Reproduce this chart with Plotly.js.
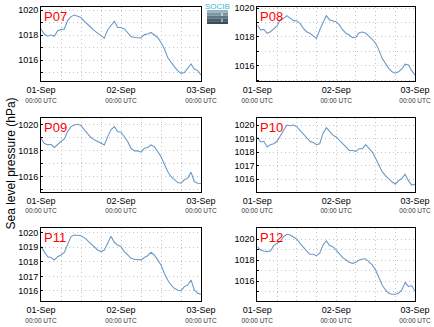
<!DOCTYPE html>
<html>
<head>
<meta charset="utf-8">
<script src="https://cdn.plot.ly/plotly-3.0.1.min.js"></script>
<style>html,body{margin:0;padding:0;background:#fff}#chart{width:434px;height:327px}</style>
</head>
<body>
<div id="chart"></div>
<script>
// Hours since 01-Sep 00:00 UTC
const hours = [0,1,2,3,4,5,6,7,8,9,10,11,12,13,14,15,16,17,18,19,20,21,22,23,24,25,26,27,28,29,30,31,32,33,34,35,36,37,38,39,40,41,42,43,44,45,46,47,48];

const stations = ['P07','P08','P09','P10','P11','P12'];

const p07 = [1018.48,1018.08,1017.90,1018.00,1017.90,1018.35,1018.43,1018.48,1019.15,1019.47,1019.60,1019.50,1019.40,1019.10,1018.88,1018.60,1018.35,1018.13,1017.95,1017.75,1018.40,1018.75,1019.10,1018.60,1018.60,1018.48,1018.20,1017.87,1017.80,1017.80,1017.76,1018.03,1018.08,1018.20,1018.00,1017.80,1017.40,1016.90,1016.20,1015.80,1015.47,1015.15,1014.93,1015.00,1015.33,1015.68,1015.28,1015.15,1014.80];
const p08 = [1018.84,1018.49,1018.53,1018.26,1018.37,1018.60,1018.77,1019.19,1019.30,1019.49,1019.30,1019.14,1019.12,1018.95,1018.60,1018.37,1018.26,1018.10,1017.90,1018.49,1019.00,1019.50,1019.19,1019.14,1019.07,1018.84,1018.49,1018.26,1018.14,1017.95,1017.98,1018.30,1018.35,1018.26,1018.07,1017.84,1017.56,1017.10,1016.51,1016.12,1015.81,1015.58,1015.47,1015.58,1015.77,1016.10,1016.05,1015.65,1015.35];
const p09 = [1018.97,1018.59,1018.46,1018.51,1018.26,1018.51,1018.72,1018.92,1019.49,1019.87,1020.00,1020.05,1019.95,1019.62,1019.28,1019.03,1018.85,1018.72,1018.59,1018.46,1019.10,1019.62,1019.87,1019.49,1019.44,1019.10,1018.72,1018.20,1018.00,1018.00,1017.90,1018.20,1018.26,1018.46,1018.33,1017.95,1017.56,1016.97,1016.41,1016.03,1015.77,1015.56,1015.51,1015.77,1015.90,1016.36,1015.64,1015.51,1015.49];
const p10 = [1019.12,1018.75,1018.80,1018.38,1018.55,1018.62,1018.80,1019.20,1019.62,1020.00,1019.95,1020.00,1019.88,1019.62,1019.38,1019.05,1018.80,1018.70,1018.55,1018.62,1019.38,1019.80,1019.50,1019.25,1019.12,1018.88,1018.62,1018.38,1018.12,1018.12,1018.05,1018.25,1018.25,1018.55,1018.25,1018.00,1017.55,1017.00,1016.55,1016.25,1016.00,1015.80,1015.62,1015.88,1016.05,1016.35,1015.88,1015.55,1015.62];
const p11 = [1019.04,1018.70,1018.35,1018.29,1018.13,1018.35,1018.47,1018.65,1019.15,1019.73,1019.84,1019.84,1019.79,1019.66,1019.43,1019.20,1018.97,1018.81,1018.70,1018.81,1019.27,1019.75,1019.34,1019.15,1019.04,1018.70,1018.47,1018.24,1018.17,1018.13,1018.13,1018.29,1018.42,1018.65,1018.47,1018.13,1017.78,1017.21,1016.75,1016.41,1016.18,1016.07,1016.00,1016.30,1016.41,1016.75,1016.07,1015.84,1015.77];
const p12 = [1019.30,1018.98,1018.89,1018.83,1018.89,1019.40,1019.62,1019.78,1020.25,1020.48,1020.41,1020.25,1020.03,1019.62,1019.21,1018.89,1018.57,1018.57,1018.44,1018.67,1019.46,1019.84,1019.40,1019.30,1018.98,1018.57,1018.25,1018.03,1017.81,1017.71,1017.81,1018.03,1018.13,1018.13,1017.87,1017.56,1017.08,1016.29,1015.65,1015.17,1014.86,1014.76,1014.76,1014.86,1015.17,1015.90,1015.49,1015.59,1015.08];

const dateLabels = ['01-Sep','02-Sep','03-Sep'];
const timeLabel = '00:00 UTC';
const xGridVals = [0,6,12,18,24,30,36,42,48];
const yTickSets = [
  [1016,1018,1020],
  [1016,1018,1020],
  [1016,1018,1020],
  [1016,1017,1018,1019,1020],
  [1016,1017,1018,1019,1020],
  [1016,1018,1020]
];
const yGridSets = [
  [1015,1016,1017,1018,1019,1020],
  [1015,1016,1017,1018,1019,1020],
  [1015,1016,1017,1018,1019,1020],
  [1016,1017,1018,1019,1020],
  [1016,1017,1018,1019,1020],
  [1015,1016,1017,1018,1019,1020,1021]
];
const yRanges = [
  [1014.32,1020.24],[1014.93,1020.09],[1014.87,1020.51],
  [1015.08,1020.50],[1015.31,1020.30],[1014.12,1021.05]
];
const yTitle = 'Sea level pressure (hPa)';
const series = [p07,p08,p09,p10,p11,p12];

const W = 434, H = 327;
const colDom = [[41/W, 201/W],[257.3/W, 415/W]];
const rowDom = [[1-81/H, 1-7/H],[1-191.5/H, 1-118.3/H],[1-301/H, 1-228.3/H]];

const xTickText = xGridVals.map(v => {
  if (v % 24 === 0) {
    return '<span style="font-size:9px">' + dateLabels[v/24] + '</span><br><span style="font-size:6.5px;color:#333">' + timeLabel + '</span>';
  }
  return '';
});

const data = [];
const layout = {
  width: W, height: H,
  margin: {l:0,r:0,t:0,b:0},
  paper_bgcolor: '#fff', plot_bgcolor: '#fff',
  showlegend: false,
  font: {family: 'Liberation Sans, Arial, sans-serif', color: '#000', size: 9},
  annotations: [], shapes: []
};

series.forEach((s, i) => {
  const n = i === 0 ? '' : String(i+1);
  const col = i % 2, row = Math.floor(i/2);
  data.push({
    x: hours, y: s, xaxis: 'x'+n, yaxis: 'y'+n,
    type: 'scatter', mode: 'lines',
    line: {color: '#6c9ac6', width: 1.1},
    hoverinfo: 'skip'
  });
  const yTickText = yGridSets[i].map(v => yTickSets[i].includes(v) ? String(v) : '');
  layout['xaxis'+n] = {
    domain: colDom[col], anchor: 'y'+n, range: [0,48],
    tickmode: 'array', tickvals: xGridVals, ticktext: xTickText,
    showgrid: true, gridcolor: '#c4c4c4', griddash: '1px,3px', gridwidth: 1,
    showline: true, linecolor: '#000', linewidth: 1, mirror: true,
    ticks: '', tickfont: {size: 7}, ticklabelstandoff: 3, zeroline: false, fixedrange: true
  };
  layout['yaxis'+n] = {
    domain: rowDom[row], anchor: 'x'+n, range: yRanges[i],
    tickmode: 'array', tickvals: yGridSets[i], ticktext: yTickText,
    showgrid: true, gridcolor: '#c4c4c4', griddash: '1px,3px', gridwidth: 1,
    showline: true, linecolor: '#000', linewidth: 1, mirror: true,
    ticks: 'inside', ticklen: 2, tickcolor: '#000',
    tickfont: {size: 9}, zeroline: false, fixedrange: true
  };
  layout.annotations.push({
    text: stations[i], xref: 'x'+n+' domain', yref: 'y'+n+' domain',
    x: 0.01, y: 1, xanchor: 'left', yanchor: 'top', yshift: -1,
    showarrow: false, font: {size: 13, color: '#ff0000'}, borderpad: 0
  });
});

layout.annotations.push({
  text: yTitle, xref: 'paper', yref: 'paper', x: 10/W, y: 0.5,
  xanchor: 'center', yanchor: 'middle', textangle: -90, showarrow: false,
  font: {size: 12, color: '#000'}
});

// logo
const logoBands = ['#9ab4be','#7a96a4','#5e7786','#485e6c','#3a4b58'];
const lx0 = 207/W, lx1 = 228/W, ly0 = 1-24/H, ly1 = 1-10/H;
logoBands.forEach((c, k) => {
  const h = (ly1-ly0)/logoBands.length;
  layout.shapes.push({type:'rect', xref:'paper', yref:'paper', x0: lx0, x1: lx1,
    y0: ly1 - (k+1)*h, y1: ly1 - k*h, fillcolor: c, line: {width: 0}, layer: 'above'});
});
layout.shapes.push({type:'line', xref:'paper', yref:'paper', x0: 222/W, x1: 222/W,
  y0: 1-22/H, y1: 1-12/H, line: {color:'#ffffff', width:1, dash:'dot'}, layer:'above'});
layout.annotations.push({
  text: 'SOCIB', xref:'paper', yref:'paper', x: 217.5/W, y: 1-1/H,
  xanchor:'center', yanchor:'top', showarrow:false, borderpad:0,
  font:{size:8, color:'#38b8d4'}
});

Plotly.newPlot('chart', data, layout, {staticPlot: true, displayModeBar: false});
</script>
</body>
</html>
